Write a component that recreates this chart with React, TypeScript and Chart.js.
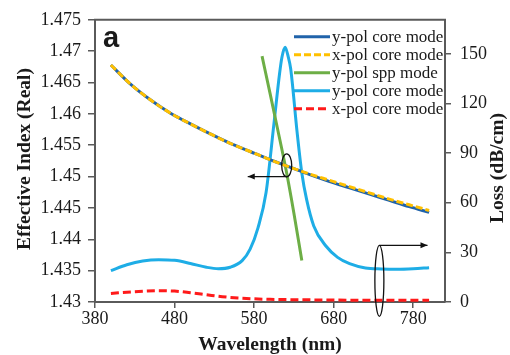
import React, { useEffect, useRef } from "react";
import { Chart, registerables } from "chart.js";

Chart.register(...registerables);

// Wavelength (nm) sampling for the effective-index curves
const coreWl = [400, 425, 450, 475, 500, 525, 550, 575, 600, 625, 650, 675, 700, 725, 750, 775, 800];
const yPolCoreNeff = [1.4678, 1.4647, 1.4622, 1.4601, 1.4584, 1.4568, 1.4553, 1.454, 1.4527, 1.4515, 1.4503, 1.4492, 1.4482, 1.4472, 1.4462, 1.4452, 1.4443];
const xPolCoreNeff = [1.4678, 1.4647, 1.4622, 1.4601, 1.4584, 1.4568, 1.4553, 1.454, 1.4527, 1.4515, 1.4504, 1.4494, 1.4484, 1.4474, 1.4464, 1.4455, 1.4446];

const sppWl = [590, 600, 610, 620, 630, 640];
const yPolSppNeff = [1.4692, 1.4633, 1.4573, 1.4512, 1.4442, 1.4366];

const lossWl = [400, 420, 440, 460, 480, 500, 520, 535, 550, 565, 575, 585, 595, 605, 612, 615, 619, 623, 626, 634, 640, 646, 655, 670, 685, 700, 720, 740, 760, 780, 800];
const yPolCoreLoss = [19, 22.5, 24.8, 25.6, 25.2, 23.3, 21, 20.1, 21, 25, 32, 45, 66, 108, 138, 148, 154, 148, 141, 103, 78, 62, 46, 34, 27, 23.2, 20.6, 20, 19.8, 20.1, 20.7];

const xLossWl = [400, 430, 460, 480, 500, 520, 540, 560, 580, 600, 650, 700, 750, 800];
const xPolCoreLoss = [5.2, 6.2, 6.8, 6.6, 5.6, 4.4, 3.2, 2.4, 1.9, 1.6, 1.3, 1.1, 1.0, 1.0];

const xTicks = [380, 480, 580, 680, 780];
const leftTicks = [1.43, 1.435, 1.44, 1.445, 1.45, 1.455, 1.46, 1.465, 1.47, 1.475];
const rightTicks = [0, 30, 60, 90, 120, 150];

const seriesLabels = ["y-pol core mode", "x-pol core mode", "y-pol spp mode", "y-pol core mode", "x-pol core mode"];

const pts = (xs: number[], ys: number[]) => xs.map((x, i) => ({ x, y: ys[i] }));

const AXIS = "#5a5a5a";
const TEXT = "#1a1a1a";

function arrow(ctx: CanvasRenderingContext2D, x1: number, y1: number, x2: number, y2: number) {
  ctx.beginPath();
  ctx.moveTo(x1, y1);
  ctx.lineTo(x2, y2);
  ctx.stroke();
  const dir = Math.sign(x2 - x1);
  ctx.beginPath();
  ctx.moveTo(x2, y2);
  ctx.lineTo(x2 - dir * 7, y2 - 3);
  ctx.lineTo(x2 - dir * 7, y2 + 3);
  ctx.closePath();
  ctx.fill();
}

const overlay = {
  id: "overlay",
  afterDraw(chart: any) {
    const ctx: CanvasRenderingContext2D = chart.ctx;
    const { left, right, top, bottom } = chart.chartArea;
    const xs = chart.scales.x;
    const yl = chart.scales.yL;
    const yr = chart.scales.yR;
    ctx.save();
    // top border
    ctx.strokeStyle = AXIS;
    ctx.lineWidth = 2;
    ctx.beginPath();
    ctx.moveTo(left - 1, top);
    ctx.lineTo(right + 1, top);
    ctx.stroke();

    // panel letter
    ctx.fillStyle = TEXT;
    ctx.font = 'bold 29px "Liberation Sans", Arial, sans-serif';
    ctx.textAlign = "left";
    ctx.textBaseline = "alphabetic";
    ctx.fillText("a", left + 8, top + 27);

    // ellipses and arrows
    ctx.strokeStyle = "#111";
    ctx.fillStyle = "#111";
    ctx.lineWidth = 1.3;
    const e1x = xs.getPixelForValue(621);
    const e1y = yl.getPixelForValue(1.4518);
    ctx.beginPath();
    ctx.ellipse(e1x, e1y, 5, 11.5, 0, 0, Math.PI * 2);
    ctx.stroke();
    const a1y = yl.getPixelForValue(1.45);
    arrow(ctx, e1x, a1y, xs.getPixelForValue(572), a1y);

    const e2x = xs.getPixelForValue(737.5);
    const e2y = yr.getPixelForValue(12.8);
    ctx.beginPath();
    ctx.ellipse(e2x, e2y, 4.5, 35.5, 0, 0, Math.PI * 2);
    ctx.stroke();
    const a2y = e2y - 35.5;
    arrow(ctx, e2x, a2y, xs.getPixelForValue(798), a2y);

    // legend
    ctx.font = '17px "Liberation Serif", "Times New Roman", serif';
    ctx.textBaseline = "middle";
    chart.data.datasets.forEach((ds: any, i: number) => {
      const y = top + 17 + i * 18;
      ctx.strokeStyle = ds.borderColor;
      ctx.lineWidth = 3;
      ctx.setLineDash(ds.borderDash || []);
      ctx.beginPath();
      ctx.moveTo(294, y);
      ctx.lineTo(330, y);
      ctx.stroke();
      ctx.setLineDash([]);
      ctx.fillStyle = TEXT;
      ctx.fillText(ds.label, 332, y + 1);
    });

    // axis titles
    ctx.fillStyle = TEXT;
    ctx.font = 'bold 19.5px "Liberation Serif", "Times New Roman", serif';
    ctx.textAlign = "center";
    ctx.textBaseline = "middle";
    ctx.save();
    ctx.translate(25, 159);
    ctx.rotate(-Math.PI / 2);
    ctx.fillText("Effective Index (Real)", 0, 0);
    ctx.restore();
    ctx.save();
    ctx.translate(498, 168);
    ctx.rotate(-Math.PI / 2);
    ctx.fillText("Loss (dB/cm)", 0, 0);
    ctx.restore();
    ctx.fillText("Wavelength (nm)", 270, 345);
    ctx.restore();
  },
};

export default function App() {
  const ref = useRef<HTMLCanvasElement | null>(null);
  useEffect(() => {
    if (!ref.current) return;
    const tickFont = { family: '"Liberation Serif", "Times New Roman", serif', size: 18 };
    const chart = new Chart(ref.current, {
      type: "line",
      data: {
        datasets: [
          {
            label: seriesLabels[0],
            data: pts(coreWl, yPolCoreNeff),
            yAxisID: "yL",
            borderColor: "#2063AA",
            borderWidth: 3,
            pointRadius: 0,
            cubicInterpolationMode: "monotone",
            order: 1,
          },
          {
            label: seriesLabels[1],
            data: pts(coreWl, xPolCoreNeff),
            yAxisID: "yL",
            borderColor: "#FFC000",
            borderWidth: 3,
            borderDash: [7, 3],
            pointRadius: 0,
            cubicInterpolationMode: "monotone",
            order: 0,
          },
          {
            label: seriesLabels[2],
            data: pts(sppWl, yPolSppNeff),
            yAxisID: "yL",
            borderColor: "#6DAE46",
            borderWidth: 3,
            pointRadius: 0,
            cubicInterpolationMode: "monotone",
            order: 2,
          },
          {
            label: seriesLabels[3],
            data: pts(lossWl, yPolCoreLoss),
            yAxisID: "yR",
            borderColor: "#1EADE6",
            borderWidth: 3,
            pointRadius: 0,
            cubicInterpolationMode: "monotone",
            order: 3,
          },
          {
            label: seriesLabels[4],
            data: pts(xLossWl, xPolCoreLoss),
            yAxisID: "yR",
            borderColor: "#FF1A1A",
            borderWidth: 3,
            borderDash: [8, 4],
            pointRadius: 0,
            cubicInterpolationMode: "monotone",
            order: 4,
          },
        ],
      },
      options: {
        animation: false,
        responsive: false,
        maintainAspectRatio: false,
        layout: { padding: { top: 16, left: 0, right: 0, bottom: 0 } },
        plugins: { legend: { display: false }, tooltip: { enabled: false } },
        scales: {
          x: {
            type: "linear",
            position: "bottom",
            min: 380,
            max: 820,
            afterFit: (s: any) => { s.height = 53; },
            afterBuildTicks: (s: any) => { s.ticks = xTicks.map((v) => ({ value: v })); },
            ticks: { font: tickFont, color: TEXT, padding: 0, maxRotation: 0 },
            grid: { display: true, drawOnChartArea: false, drawTicks: true, tickLength: 6, color: AXIS, lineWidth: 1.5 },
            border: { display: true, color: AXIS, width: 2 },
          },
          yL: {
            type: "linear",
            position: "left",
            min: 1.43,
            max: 1.475,
            afterFit: (s: any) => { s.width = 95; },
            afterBuildTicks: (s: any) => { s.ticks = leftTicks.map((v) => ({ value: v })); },
            ticks: {
              font: tickFont,
              color: TEXT,
              padding: 7,
              callback: (v: any) => String(Number(Number(v).toFixed(3))),
            },
            grid: { display: true, drawOnChartArea: false, drawTicks: true, tickLength: 7, color: AXIS, lineWidth: 1.5 },
            border: { display: true, color: AXIS, width: 2 },
          },
          yR: {
            type: "linear",
            position: "right",
            min: 0,
            max: 170.6,
            afterFit: (s: any) => { s.width = 65; },
            afterBuildTicks: (s: any) => { s.ticks = rightTicks.map((v) => ({ value: v })); },
            ticks: { font: tickFont, color: TEXT, padding: 9 },
            grid: { display: true, drawOnChartArea: false, drawTicks: true, tickLength: 6, color: AXIS, lineWidth: 1.5 },
            border: { display: true, color: AXIS, width: 2 },
          },
        },
      },
      plugins: [overlay],
    } as any);
    return () => chart.destroy();
  }, []);
  return (
    <div style={{ position: "fixed", left: 0, top: 0, width: 510, height: 355, background: "#fff" }}>
      <canvas ref={ref} width={510} height={355} style={{ width: 510, height: 355, display: "block" }} />
    </div>
  );
}
